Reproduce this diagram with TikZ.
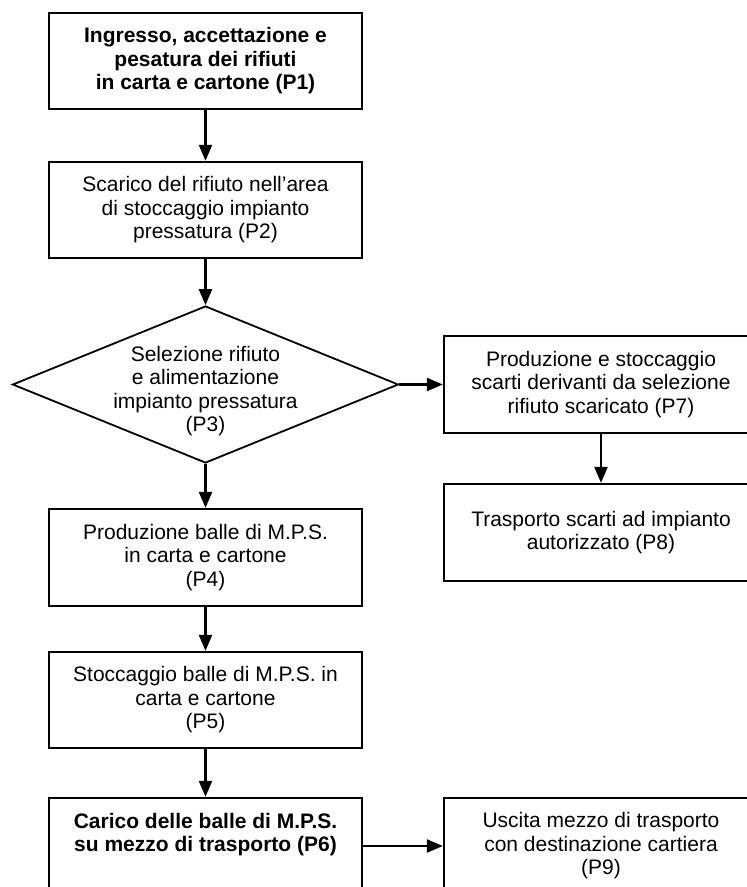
\documentclass[tikz,border=0pt]{standalone}
\usepackage{fontspec}
\setmainfont{Liberation Sans}
\usetikzlibrary{arrows.meta,shapes.geometric}
\begin{document}
\begin{tikzpicture}[x=1pt,y=-1pt,
  txt/.style={font=\fontsize{21}{23.5}\selectfont, align=center, inner sep=0pt},
  boldtxt/.style={font=\fontsize{21}{23.5}\selectfont\bfseries, align=center, inner sep=0pt},
  box/.style={draw, line width=2.3pt, rectangle, minimum width=313pt, minimum height=96pt, txt},
  boldbox/.style={box, boldtxt},
  dia/.style={draw, line width=1.8pt, diamond, minimum width=386pt, minimum height=157pt, inner sep=0pt},
  arr/.style={line width=2.3pt, -{Triangle[length=16pt,width=13pt]}},
]
\useasboundingbox (0,0) rectangle (747,887);
\clip (0,0) rectangle (747,887);

\node[boldbox] (p1) at (205.5,61) {Ingresso, accettazione e\\pesatura dei rifiuti\\in carta e cartone (P1)};
\node[box] (p2) at (205.5,210) {Scarico del rifiuto nell’area\\di stoccaggio impianto\\pressatura (P2)};
\node[dia] (p3) at (205.5,384.5) {};
\node[txt] (p3t) at (205.5,391) {Selezione rifiuto\\e alimentazione\\impianto pressatura\\(P3)};
\node[box, minimum height=97pt] (p4) at (205.5,557.5) {Produzione balle di M.P.S.\\in carta e cartone\\(P4)};
\node[box] (p5) at (205.5,700) {Stoccaggio balle di M.P.S. in\\carta e cartone\\(P5)};
\node[box] (p6) at (205.5,846) {};
\node[boldtxt] (p6t) at (205.5,834.5) {Carico delle balle di M.P.S.\\su mezzo di trasporto (P6)};
\node[box, minimum width=314pt, minimum height=97pt] (p7) at (601,384.5) {Produzione e stoccaggio\\scarti derivanti da selezione\\rifiuto scaricato (P7)};
\node[box, minimum width=314pt, minimum height=97pt] (p8) at (601,532.5) {Trasporto scarti ad impianto\\autorizzato (P8)};
\node[box, minimum width=314pt] (p9) at (601,846) {Uscita mezzo di trasporto\\con destinazione cartiera\\(P9)};

\draw[arr] (p1) -- (p2);
\draw[arr] (p2) -- (p3);
\draw[arr] (p3) -- (p4);
\draw[arr] (p4) -- (p5);
\draw[arr] (p5) -- (p6);
\draw[arr] (p3) -- (p7);
\draw[arr] (p7) -- (p8);
\draw[arr] (p6) -- (p9);
\end{tikzpicture}
\end{document}
